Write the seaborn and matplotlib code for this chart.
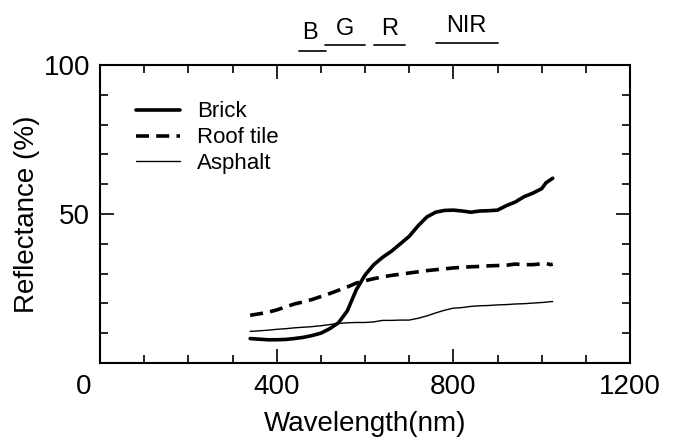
import numpy as np
import pandas as pd
import matplotlib
matplotlib.use("Agg")
import matplotlib.pyplot as plt
import matplotlib.transforms as mtransforms
import seaborn as sns
from matplotlib.ticker import MultipleLocator, FixedLocator

# ---- data ----
wavelength = [340, 360, 380, 400, 420, 440, 460, 480, 500, 520, 540, 560, 580, 600,
              620, 640, 660, 680, 700, 720, 740, 760, 780, 800, 820, 840, 860, 880,
              900, 920, 940, 960, 980, 1000, 1010, 1020, 1025]
brick = [8.2, 8.0, 7.8, 7.8, 7.9, 8.2, 8.6, 9.2, 10.0, 11.5, 13.5, 17.5, 24.5, 29.5,
         33.0, 35.5, 37.5, 40.0, 42.5, 46.0, 49.0, 50.6, 51.2, 51.3, 51.0, 50.6, 51.0, 51.1,
         51.3, 52.8, 54.0, 55.8, 57.0, 58.5, 60.5, 61.5, 62.0]
roof_tile = [16.0, 16.5, 17.0, 17.8, 18.8, 19.8, 20.5, 21.3, 22.3, 23.3, 24.4, 25.5, 26.8, 27.6,
             28.3, 28.9, 29.4, 29.8, 30.2, 30.6, 31.0, 31.3, 31.6, 31.9, 32.1, 32.3, 32.4, 32.6,
             32.7, 32.8, 33.2, 33.0, 33.0, 33.3, 33.4, 33.0, 33.2]
asphalt = [10.6, 10.8, 11.0, 11.3, 11.5, 11.8, 12.0, 12.2, 12.5, 12.9, 13.3, 13.5, 13.6, 13.6,
           13.8, 14.3, 14.3, 14.4, 14.4, 15.0, 15.8, 16.8, 17.7, 18.4, 18.6, 19.0, 19.2, 19.3,
           19.5, 19.6, 19.8, 19.9, 20.1, 20.3, 20.4, 20.6, 20.6]
series_names = ["Brick", "Roof tile", "Asphalt"]

band_names = ["B", "G", "R", "NIR"]
band_start = [450, 510, 620, 760]
band_end = [512, 600, 690, 900]

x_ticks = [0, 400, 800, 1200]
y_ticks = [50, 100]

# ---- figure ----
sns.set_theme(style="ticks")
plt.rcParams["font.family"] = ["Liberation Sans", "DejaVu Sans"]
plt.rcParams["text.color"] = "black"
plt.rcParams["axes.labelcolor"] = "black"
plt.rcParams["xtick.color"] = "black"
plt.rcParams["ytick.color"] = "black"

df = pd.DataFrame({"wl": wavelength * 3,
                   "ref": brick + roof_tile + asphalt,
                   "material": sum([[n] * len(wavelength) for n in series_names], [])})

fig = plt.figure(figsize=(6.77, 4.41), dpi=100)
ax = fig.add_axes([100 / 677, 78 / 441, 530 / 677, 298 / 441])

styles = {"Brick": dict(lw=2.6, ls="-"),
          "Roof tile": dict(lw=2.6, ls=(0, (3.6, 2.0))),
          "Asphalt": dict(lw=1.0, ls="-")}
for name in series_names:
    sub = df[df.material == name]
    sns.lineplot(data=sub, x="wl", y="ref", ax=ax, color="black", label=name,
                 linewidth=styles[name]["lw"], linestyle=styles[name]["ls"])

ax.set_xlim(0, 1200)
ax.set_ylim(0, 100)
ax.xaxis.set_major_locator(FixedLocator(x_ticks))
ax.yaxis.set_major_locator(FixedLocator(y_ticks))
ax.xaxis.set_minor_locator(MultipleLocator(100))
ax.yaxis.set_minor_locator(MultipleLocator(10))
ax.tick_params(which="both", direction="in", top=True, right=True, width=1.2,
               labelsize=20, color="black", labelcolor="black")
ax.tick_params(axis="x", pad=8)
ax.tick_params(axis="y", pad=7)
ax.tick_params(which="major", length=10)
ax.tick_params(which="minor", length=6)
for s in ax.spines.values():
    s.set_linewidth(1.5)
    s.set_color("black")

ax.set_xlabel("Wavelength(nm)", fontsize=20, labelpad=8)
ax.set_ylabel("Reflectance (%)", fontsize=20, labelpad=3)

leg = ax.legend(loc="upper left", frameon=False, fontsize=16, handlelength=2.0,
                bbox_to_anchor=(0.03, 0.945), labelspacing=0.22, handletextpad=0.75)

# shift the "0" x tick label left as in the reference
fig.canvas.draw()
lbl0 = ax.get_xticklabels()[0]
lbl0.set_transform(lbl0.get_transform() +
                   mtransforms.ScaledTranslation(-0.16, 0, fig.dpi_scale_trans))

# band labels above the axes
band_text_y = [108.8, 110.2, 110.2, 111.2]
band_line_y = [104.8, 106.8, 106.8, 107.5]
for name, s, e, ty, ly in zip(band_names, band_start, band_end, band_text_y, band_line_y):
    ax.plot([s, e], [ly, ly], color="black", lw=1.2, clip_on=False)
    ax.text((s + e) / 2 - (6 if name == "B" else 0), ty, name, ha="center", va="baseline",
            fontsize=17, clip_on=False)

fig.savefig("out.png", dpi=100)
